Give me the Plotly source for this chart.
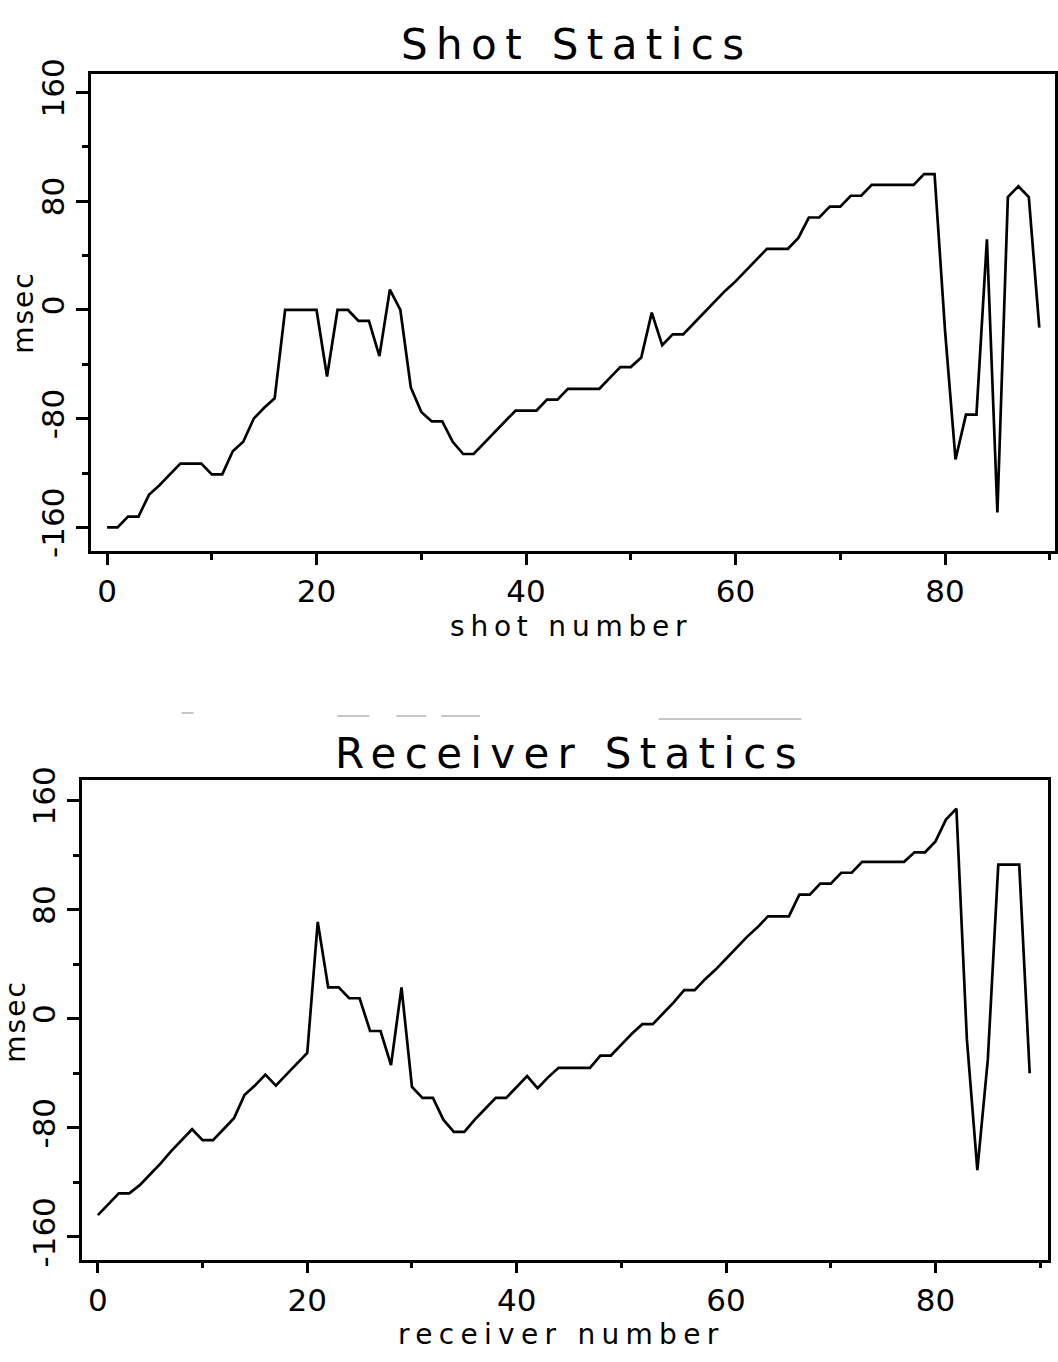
import plotly.graph_objects as go

# ---------------- data ----------------
shot_number = [0, 1, 2, 3, 4, 5, 6, 7, 8, 9,
               10, 11, 12, 13, 14, 15, 16, 17, 18, 19,
               20, 21, 22, 23, 24, 25, 26, 27, 28, 29,
               30, 31, 32, 33, 34, 35, 36, 37, 38, 39,
               40, 41, 42, 43, 44, 45, 46, 47, 48, 49,
               50, 51, 52, 53, 54, 55, 56, 57, 58, 59,
               60, 61, 62, 63, 64, 65, 66, 67, 68, 69,
               70, 71, 72, 73, 74, 75, 76, 77, 78, 79,
               80, 81, 82, 83, 84, 85, 86, 87, 88, 89]
shot_statics = [-160, -160, -152, -152, -136, -129, -121, -113, -113, -113,
                -121, -121, -104, -97, -80, -72, -65, 0, 0, 0,
                0, -49, 0, 0, -8, -8, -34, 15, 0, -57,
                -75, -82, -82, -97, -106, -106, -98, -90, -82, -74,
                -74, -74, -66, -66, -58, -58, -58, -58, -50, -42,
                -42, -35, -2, -26, -18, -18, -10, -2, 6, 14,
                21, 29, 37, 45, 45, 45, 53, 68, 68, 76,
                76, 84, 84, 92, 92, 92, 92, 92, 100, 100,
                -15, -110, -77, -77, 52, -149, 83, 91, 83, -13]

receiver_number = [0, 1, 2, 3, 4, 5, 6, 7, 8, 9,
                   10, 11, 12, 13, 14, 15, 16, 17, 18, 19,
                   20, 21, 22, 23, 24, 25, 26, 27, 28, 29,
                   30, 31, 32, 33, 34, 35, 36, 37, 38, 39,
                   40, 41, 42, 43, 44, 45, 46, 47, 48, 49,
                   50, 51, 52, 53, 54, 55, 56, 57, 58, 59,
                   60, 61, 62, 63, 64, 65, 66, 67, 68, 69,
                   70, 71, 72, 73, 74, 75, 76, 77, 78, 79,
                   80, 81, 82, 83, 84, 85, 86, 87, 88, 89]
receiver_statics = [-144, -136, -128, -128, -122, -114, -106, -97, -89, -81,
                    -89, -89, -81, -73, -56, -49, -41, -49, -41, -33,
                    -25, 71, 23, 23, 15, 15, -9, -9, -34, 23,
                    -50, -58, -58, -74, -83, -83, -74, -66, -58, -58,
                    -50, -42, -51, -43, -36, -36, -36, -36, -27, -27,
                    -19, -11, -4, -4, 4, 12, 21, 21, 29, 36,
                    44, 52, 60, 67, 75, 75, 75, 91, 91, 99,
                    99, 107, 107, 115, 115, 115, 115, 115, 122, 122,
                    130, 146, 154, -15, -111, -30, 113, 113, 113, -40]

x_major_ticks = [0, 20, 40, 60, 80]
x_major_labels = ["0", "20", "40", "60", "80"]
x_minor_ticks = [10, 30, 50, 70, 90]
y_major_ticks = [-160, -80, 0, 80, 160]
y_major_labels = ["-160", "-80", "0", "80", "160"]
y_minor_ticks = [-120, -40, 40, 120]

titles = ["Shot Statics", "Receiver Statics"]
x_titles = ["shot number", "receiver number"]
y_title = "msec"

# ---------------- layout helpers ----------------
W, H = 1058, 1362
FONT = "DejaVu Sans"


def px_x(p):
    return p / W


def px_y(p):
    return 1 - p / H


def spaced(text, s):
    return f'<span style="letter-spacing:{s}px">{text}</span>'


def xaxis_cfg(domain, rng, anchor):
    return dict(
        domain=domain, range=rng, anchor=anchor,
        showline=True, linecolor="black", linewidth=2.6, mirror=True,
        ticks="outside", ticklen=11, tickwidth=2.6, tickcolor="black",
        tickmode="array", tickvals=x_major_ticks, ticktext=x_major_labels,
        tickfont=dict(family=FONT, size=31, color="black"),
        minor=dict(tickmode="array", tickvals=x_minor_ticks, ticks="outside",
                   ticklen=6, tickwidth=2.6, tickcolor="black", showgrid=False),
        showgrid=False, zeroline=False, fixedrange=True,
    )


def yaxis_cfg(domain, rng, anchor):
    return dict(
        domain=domain, range=rng, anchor=anchor,
        showline=True, linecolor="black", linewidth=2.6, mirror=True,
        ticks="outside", ticklen=12, tickwidth=2.6, tickcolor="black",
        tickmode="array", tickvals=y_major_ticks, ticktext=y_major_labels,
        tickangle=-90,
        tickfont=dict(family=FONT, size=31, color="black"),
        minor=dict(tickmode="array", tickvals=y_minor_ticks, ticks="outside",
                   ticklen=6, tickwidth=2.6, tickcolor="black", showgrid=False),
        showgrid=False, zeroline=False, fixedrange=True,
    )


fig = go.Figure()
fig.add_trace(go.Scatter(x=shot_number, y=shot_statics, mode="lines",
                         line=dict(color="black", width=2.7),
                         xaxis="x", yaxis="y", showlegend=False))
fig.add_trace(go.Scatter(x=receiver_number, y=receiver_statics, mode="lines",
                         line=dict(color="black", width=2.7),
                         xaxis="x2", yaxis="y2", showlegend=False))

top_xdom = [px_x(91), px_x(1057)]
top_ydom = [px_y(545), px_y(60)]
bot_xdom = [px_x(82), px_x(1050)]
bot_ydom = [px_y(1266), px_y(778)]

annotations = [
    dict(text=spaced(titles[0], 8.4), x=px_x(578), y=px_y(30.5),
         xanchor="center", yanchor="middle",
         font=dict(family=FONT, size=42, color="black")),
    dict(text=spaced(titles[1], 8.3), x=px_x(571), y=px_y(751),
         xanchor="center", yanchor="middle",
         font=dict(family=FONT, size=42, color="black")),
    dict(text=spaced(x_titles[0], 5.8), x=px_x(572), y=px_y(622),
         xanchor="center", yanchor="middle",
         font=dict(family=FONT, size=28, color="black")),
    dict(text=spaced(x_titles[1], 6.3), x=px_x(563), y=px_y(1342),
         xanchor="center", yanchor="middle",
         font=dict(family=FONT, size=28, color="black")),
    dict(text=spaced(y_title, 2), x=px_x(24), y=px_y(303),
         xanchor="center", yanchor="middle", textangle=-90,
         font=dict(family=FONT, size=28, color="black")),
    dict(text=spaced(y_title, 2), x=px_x(16), y=px_y(1024),
         xanchor="center", yanchor="middle", textangle=-90,
         font=dict(family=FONT, size=28, color="black")),
]
for a in annotations:
    a.update(xref="paper", yref="paper", showarrow=False)

# faint scanner marks above the lower title
marks = [(182, 194, 710), (338, 370, 713), (397, 427, 713),
         (442, 481, 713), (660, 803, 716)]
shapes = [dict(type="line", xref="paper", yref="paper",
               x0=px_x(a), x1=px_x(b), y0=px_y(yy), y1=px_y(yy),
               line=dict(color="#b4b4b4", width=1.5)) for a, b, yy in marks]

fig.update_layout(
    width=W, height=H,
    margin=dict(l=0, r=0, t=0, b=0),
    paper_bgcolor="white", plot_bgcolor="white",
    showlegend=False,
    xaxis=xaxis_cfg(top_xdom, [-1.55, 90.5], "y"),
    yaxis=yaxis_cfg(top_ydom, [-177.2, 173.6], "x"),
    xaxis2=xaxis_cfg(bot_xdom, [-1.53, 90.75], "y2"),
    yaxis2=yaxis_cfg(bot_ydom, [-176.6, 175.1], "x2"),
    annotations=annotations,
    shapes=shapes,
)

fig.write_html("out.html", config={"displayModeBar": False})
